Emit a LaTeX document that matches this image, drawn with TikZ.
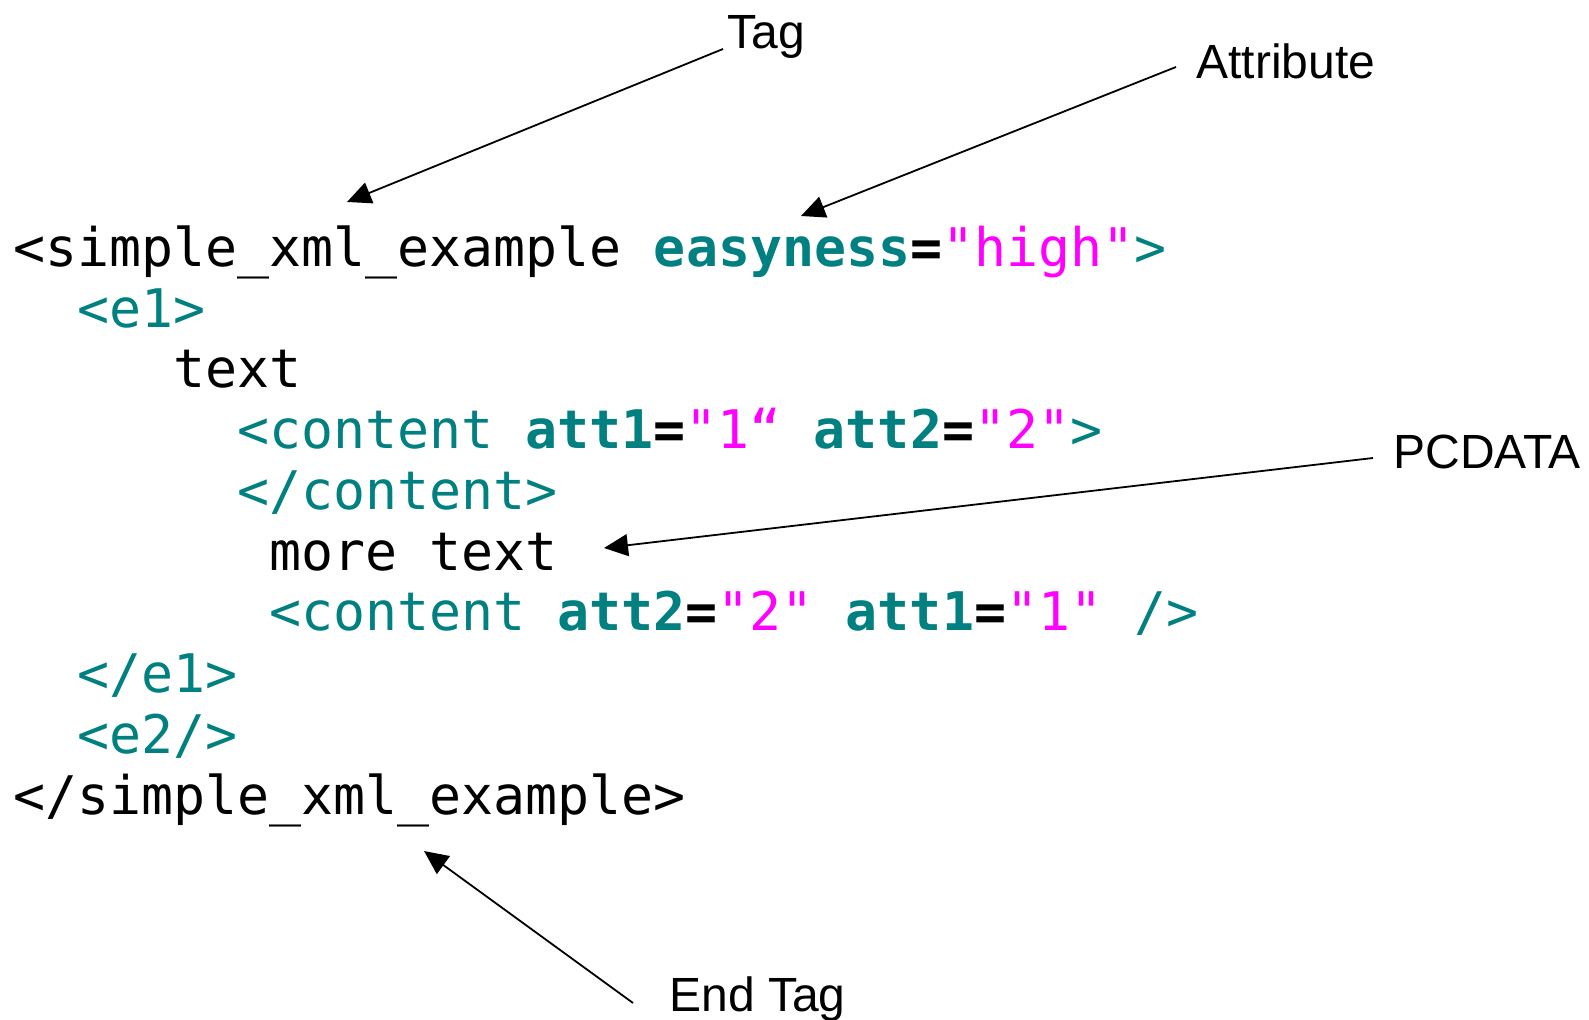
\documentclass[tikz,border=0pt]{standalone}
\usepackage{fontspec}
\usepackage{tikz}
\usetikzlibrary{arrows.meta, positioning}
\definecolor{xmlteal}{RGB}{0, 128, 128}
\definecolor{xmlpink}{RGB}{255, 0, 255}
\newfontfamily\codefont{DejaVu Sans Mono}
\newfontfamily\labelfont{Liberation Sans}
\newcommand{\xtag}[1]{\textcolor{xmlteal}{#1}}
\newcommand{\xatt}[1]{\textcolor{xmlteal}{\bfseries #1}}
\newcommand{\xval}[1]{\textcolor{xmlpink}{#1}}
\newcommand{\xeq}{{\bfseries =}}

\begin{document}
\begin{tikzpicture}[
  x=0.5pt, y=-0.5pt,
  code/.style={anchor=base west, inner sep=0pt, font=\codefont\fontsize{26.6pt}{30pt}\selectfont},
  lbl/.style={anchor=base west, inner sep=0pt, font=\labelfont\fontsize{24pt}{28pt}\selectfont},
  pointer/.style={-{Triangle[length=12pt, width=11pt]}, line width=0.9pt},
]
  \useasboundingbox (0,0) rectangle (1589,1020);

  \node[code] (l1) at (13,267) {<simple\_xml\_example \xatt{easyness}\xeq\xval{"high"}\xtag{>}};
  \node[code] (l2) at (77,328) {\xtag{<e1>}};
  \node[code] (l3) at (173,388) {text};
  \node[code] (l4) at (237,449) {\xtag{<content }\xatt{att1}\xeq\xval{"1“} \xatt{att2}\xeq\xval{"2"}\xtag{>}};
  \node[code] (l5) at (237,510) {\xtag{</content>}};
  \node[code] (l6) at (269,571) {more text};
  \node[code] (l7) at (269,631) {\xtag{<content }\xatt{att2}\xeq\xval{"2"} \xatt{att1}\xeq\xval{"1"} \xtag{/>}};
  \node[code] (l8) at (77,692) {\xtag{</e1>}};
  \node[code] (l9) at (77,753) {\xtag{<e2/>}};
  \node[code] (l10) at (13,814) {</simple\_xml\_example>};

  \node[lbl] (tag) at (727,49) {Tag};
  \node[lbl] (attr) at (1196,79) {Attribute};
  \node[lbl] (pcdata) at (1393,469) {PCDATA};
  \node[lbl] (endtag) at (669,1011) {End Tag};

  \coordinate (tagtip) at (347,202);
  \coordinate (attrtip) at (801,216);
  \coordinate (pcdatatip) at (604,548);
  \coordinate (endtagtip) at (424,851);

  \draw[pointer] ([xshift=-2pt]tag.base west) -- (tagtip);
  \draw[pointer] ([xshift=-10pt, yshift=6pt]attr.base west) -- (attrtip);
  \draw[pointer] ([xshift=-10pt, yshift=5.5pt]pcdata.base west) -- (pcdatatip);
  \draw[pointer] ([xshift=-18pt, yshift=4pt]endtag.base west) -- (endtagtip);
\end{tikzpicture}
\end{document}
